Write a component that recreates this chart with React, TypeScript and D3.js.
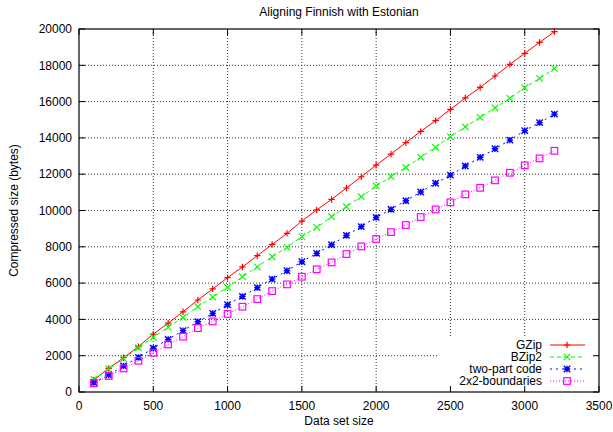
import React from 'react';
import { scaleLinear, line, range } from 'd3';

// data set sizes (x) and compressed sizes in bytes per method
const sizes = [100, 200, 300, 400, 500, 600, 700, 800, 900, 1000, 1100, 1200, 1300, 1400, 1500, 1600,
  1700, 1800, 1900, 2000, 2100, 2200, 2300, 2400, 2500, 2600, 2700, 2800, 2900, 3000, 3100, 3200];
const gzip = [660, 1300, 1890, 2500, 3190, 3790, 4420, 5070, 5680, 6300, 6890, 7510, 8130, 8740, 9420, 10030,
  10610, 11240, 11860, 12500, 13110, 13740, 14360, 14950, 15570, 16200, 16780, 17410, 18050, 18660, 19260, 19850];
const bzip2 = [700, 1270, 1840, 2440, 3010, 3570, 4110, 4700, 5230, 5770, 6350, 6900, 7450, 7970, 8560, 9070,
  9660, 10210, 10760, 11350, 11860, 12380, 12930, 13480, 14060, 14610, 15130, 15660, 16180, 16770, 17280, 17830];
const twoPart = [520, 940, 1430, 1910, 2410, 2900, 3380, 3870, 4330, 4810, 5270, 5750, 6220, 6680, 7180, 7640,
  8110, 8630, 9110, 9620, 10060, 10540, 11020, 11500, 11950, 12450, 12930, 13400, 13880, 14400, 14840, 15310];
const boundaries = [480, 880, 1300, 1720, 2160, 2620, 3050, 3520, 3890, 4300, 4700, 5120, 5560, 5930, 6350, 6760,
  7140, 7600, 8020, 8430, 8810, 9200, 9640, 10060, 10450, 10890, 11250, 11660, 12080, 12490, 12870, 13290];

const seriesNames = ['GZip', 'BZip2', 'two-part code', '2x2-boundaries'];
const seriesValues = [gzip, bzip2, twoPart, boundaries];
const seriesColors = ['#ff0000', '#00ff00', '#0000ff', '#ff00ff'];
const seriesDash = ['none', '4,3', '2,4', '1,2'];
const seriesMarks = ['plus', 'cross', 'star', 'box'];

const xTicks = [0, 500, 1000, 1500, 2000, 2500, 3000, 3500];
const yTicks = [0, 2000, 4000, 6000, 8000, 10000, 12000, 14000, 16000, 18000, 20000];

const font = '"Liberation Sans", Arial, sans-serif';

const Marker = ({ kind, x, y, color }: { kind: string; x: number; y: number; color: string }) => {
  const s = 3.2;
  if (kind === 'plus')
    return <path d={`M${x - s},${y}H${x + s}M${x},${y - s}V${y + s}`} stroke={color} strokeWidth={1.2} />;
  if (kind === 'cross')
    return <path d={`M${x - s},${y - s}L${x + s},${y + s}M${x - s},${y + s}L${x + s},${y - s}`} stroke={color} strokeWidth={1.2} />;
  if (kind === 'star')
    return <path d={`M${x - s},${y}H${x + s}M${x},${y - s}V${y + s}M${x - s},${y - s}L${x + s},${y + s}M${x - s},${y + s}L${x + s},${y - s}`}
      stroke={color} strokeWidth={1.4} />;
  return <rect x={x - 3.3} y={y - 3.3} width={6.6} height={6.6} fill="none" stroke={color} strokeWidth={1.2} />;
};

const App = () => {
  const width = 613;
  const height = 432;
  const left = 79, right = 599, top = 29, bottom = 392;

  const xScale = scaleLinear().domain([0, 3500]).range([left, right]);
  const yScale = scaleLinear().domain([0, 20000]).range([bottom, top]);

  const pathOf = (vals: number[]) =>
    line<number>().x((_, i) => xScale(sizes[i])).y(v => yScale(v))(vals) || '';

  const legendX = 542;
  const legendY = 345;
  const legendStep = 12;

  return (
    <svg width={width} height={height} style={{ position: 'absolute', left: 0, top: 0, background: '#fff' }}
      fontFamily={font} fontSize={12}>
      <rect width={width} height={height} fill="#fff" />
      <text x={(left + right) / 2} y={12} dy="0.35em" textAnchor="middle">Aligning Finnish with Estonian</text>

      {/* grid */}
      <g stroke="#333" strokeWidth={1} strokeDasharray="1,2">
        {xTicks.slice(1, -1).map(t =>
          <line key={`gx-${t}`} x1={xScale(t)} x2={xScale(t)} y1={top} y2={bottom} />)}
        {yTicks.slice(1, -1).map(t =>
          <line key={`gy-${t}`} x1={left} x2={right} y1={yScale(t)} y2={yScale(t)} />)}
      </g>
      {/* legend area clears the grid */}
      <rect x={438} y={338} width={right - 438 - 1} height={bottom - 338 - 1} fill="#fff" />

      {/* ticks on all four sides, pointing inward */}
      <g stroke="#000" strokeWidth={1}>
        {xTicks.map(t => (
          <g key={`tx-${t}`}>
            <line x1={xScale(t)} x2={xScale(t)} y1={bottom} y2={bottom - 6} />
            <line x1={xScale(t)} x2={xScale(t)} y1={top} y2={top + 6} />
          </g>
        ))}
        {yTicks.map(t => (
          <g key={`ty-${t}`}>
            <line x1={left} x2={left + 6} y1={yScale(t)} y2={yScale(t)} />
            <line x1={right} x2={right - 6} y1={yScale(t)} y2={yScale(t)} />
          </g>
        ))}
      </g>

      {xTicks.map(t =>
        <text key={`lx-${t}`} x={xScale(t)} y={406} dy="0.35em" textAnchor="middle">{t}</text>)}
      {yTicks.map(t =>
        <text key={`ly-${t}`} x={72} y={yScale(t)} dy="0.35em" textAnchor="end">{t}</text>)}

      <text x={(left + right) / 2} y={421} dy="0.35em" textAnchor="middle">Data set size</text>
      <text transform={`translate(14, ${(top + bottom) / 2}) rotate(-90)`} dy="0.35em" textAnchor="middle">
        Compressed size (bytes)
      </text>

      {/* series */}
      {seriesValues.map((vals, si) => (
        <g key={`s-${si}`}>
          <path d={pathOf(vals)} fill="none" stroke={seriesColors[si]} strokeWidth={1}
            strokeDasharray={seriesDash[si]} />
          {vals.map((v, i) =>
            <Marker key={`m-${si}-${i}`} kind={seriesMarks[si]} x={xScale(sizes[i])} y={yScale(v)} color={seriesColors[si]} />)}
        </g>
      ))}

      {/* legend */}
      {seriesNames.map((name, si) => {
        const y = legendY + si * legendStep;
        return (
          <g key={`lg-${si}`}>
            <text x={legendX} y={y} dy="0.35em" textAnchor="end">{name}</text>
            <line x1={550} x2={585} y1={y} y2={y} stroke={seriesColors[si]} strokeDasharray={seriesDash[si]} />
            <Marker kind={seriesMarks[si]} x={567} y={y} color={seriesColors[si]} />
          </g>
        );
      })}

      <rect x={left} y={top} width={right - left} height={bottom - top} fill="none" stroke="#000" strokeWidth={1.2} />
    </svg>
  );
};

export default App;
